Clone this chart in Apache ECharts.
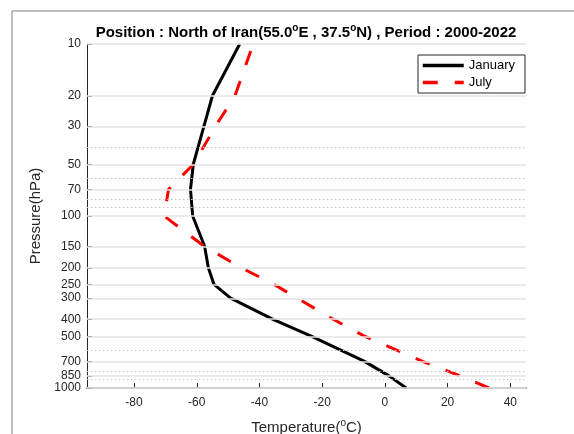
<!DOCTYPE html>
<html>
<head>
<meta charset="utf-8">
<script src="https://cdn.jsdelivr.net/npm/echarts@6/dist/echarts.min.js"></script>
<style>html,body{margin:0;padding:0;background:#fff;}#c{width:574px;height:434px;}</style>
</head>
<body>
<div id="c"></div>
<script>
// pressure levels (hPa)
var levels = [1000, 850, 700, 500, 400, 300, 250, 200, 150, 100, 70, 50, 30, 20, 10];
// temperatures (°C)
var january = [6.8, 1.3, -6.5, -23.5, -35.5, -49.2, -54.5, -56.3, -57.5, -61.3, -62.0, -61.1, -57.7, -55.0, -46.3];
var july = [33.2, 24.0, 12.0, -6.5, -16.3, -28.0, -35.3, -45.8, -57.6, -70.4, -69.0, -61.0, -54.0, -47.8, -42.0];
// tick labels
var yTicks = [10, 20, 30, 50, 70, 100, 150, 200, 250, 300, 400, 500, 700, 850, 1000];
var yMinor = [40, 60, 80, 90, 600, 800, 900];
var xTicks = [-80, -60, -40, -20, 0, 20, 40];

var L = function (p) { return Math.log10(p); };
function pairs(t) { return levels.map(function (p, i) { return [t[i], L(p)]; }); }

var FF = 'Liberation Sans, Arial, sans-serif';
var chart = echarts.init(document.getElementById('c'), null, {renderer: 'canvas'});

var gridData = yTicks.map(function (p) {
  return {yAxis: L(p), lineStyle: {color: '#e3e3e3', width: 1.5, type: 'solid'}};
}).concat(yMinor.map(function (p) {
  return {yAxis: L(p), lineStyle: {color: '#c8c8c8', width: 1, type: [1.5, 2.5]}};
}));

chart.setOption({
  animation: false,
  backgroundColor: '#ffffff',
  title: {
    text: 'Position : North of Iran(55.0{s|o}E , 37.5{s|o}N) , Period : 2000-2022',
    left: 301, top: 18, textAlign: 'center',
    textStyle: {
      fontFamily: FF, fontSize: 15, fontWeight: 'bold', color: '#000',
      rich: {s: {fontFamily: FF, fontSize: 10, fontWeight: 'bold', color: '#000', padding: [0, 0, 9, 0]}}
    }
  },
  legend: {
    data: ['January', 'July'],
    orient: 'vertical', left: 418, top: 55,
    itemWidth: 41, itemHeight: 14, itemGap: 4,
    padding: [4, 10, 4, 3],
    borderColor: '#262626', borderWidth: 1, backgroundColor: '#fff',
    itemStyle: {opacity: 0},
    lineStyle: {width: 3.5},
    textStyle: {fontFamily: FF, fontSize: 13, color: '#000'}
  },
  grid: {left: 87, right: 48, top: 44, bottom: 46, containLabel: false, outerBoundsMode: 'none'},
  xAxis: {
    type: 'value', min: -95, max: 45,
    name: 'Temperature({s|o}C)', nameLocation: 'middle', nameGap: 30,
    nameTextStyle: {fontFamily: FF, fontSize: 15, color: '#262626',
      rich: {s: {fontFamily: FF, fontSize: 10, color: '#262626', padding: [0, 0, 9, 0]}}},
    axisLine: {show: true, lineStyle: {color: '#9a9a9a', width: 2}},
    axisTick: {show: true, inside: true, length: 5, customValues: xTicks, lineStyle: {color: '#262626', width: 1}},
    axisLabel: {customValues: xTicks, margin: 9, fontFamily: FF, fontSize: 12, color: '#262626'},
    splitLine: {show: false}
  },
  yAxis: {
    type: 'value', min: 1, max: 3, inverse: true,
    name: 'Pressure(hPa)', nameLocation: 'middle', nameGap: 37,
    nameTextStyle: {fontFamily: FF, fontSize: 15, color: '#262626'},
    axisLine: {show: true, onZero: false, lineStyle: {color: '#262626', width: 1}},
    axisTick: {show: true, inside: true, length: 5, customValues: yTicks.map(L), lineStyle: {color: '#262626', width: 1}},
    axisLabel: {customValues: yTicks.map(L), margin: 6, fontFamily: FF, fontSize: 12, color: '#262626',
      hideOverlap: false, showMinLabel: true, showMaxLabel: true,
      formatter: function (v) { return String(Math.round(Math.pow(10, v))); }},
    splitLine: {show: false}
  },
  graphic: [
    {type: 'line', shape: {x1: 12, y1: 11, x2: 574, y2: 11}, style: {stroke: '#a8a8a8', lineWidth: 1.5}, silent: true},
    {type: 'line', shape: {x1: 12, y1: 11, x2: 12, y2: 434}, style: {stroke: '#a8a8a8', lineWidth: 1.5}, silent: true}
  ],
  series: [
    {
      name: 'grid', type: 'line', data: [], z: 1, silent: true,
      markLine: {silent: true, symbol: ['none', 'none'], label: {show: false}, animation: false, data: gridData}
    },
    {
      name: 'January', type: 'line', data: pairs(january), z: 3,
      symbol: 'none', showSymbol: false, color: '#000',
      lineStyle: {color: '#000', width: 3}
    },
    {
      name: 'July', type: 'line', data: pairs(july), z: 4,
      symbol: 'none', showSymbol: false, color: '#ff0000',
      lineStyle: {color: '#ff0000', width: 3, type: [15, 17]}
    }
  ]
});
</script>
</body>
</html>
